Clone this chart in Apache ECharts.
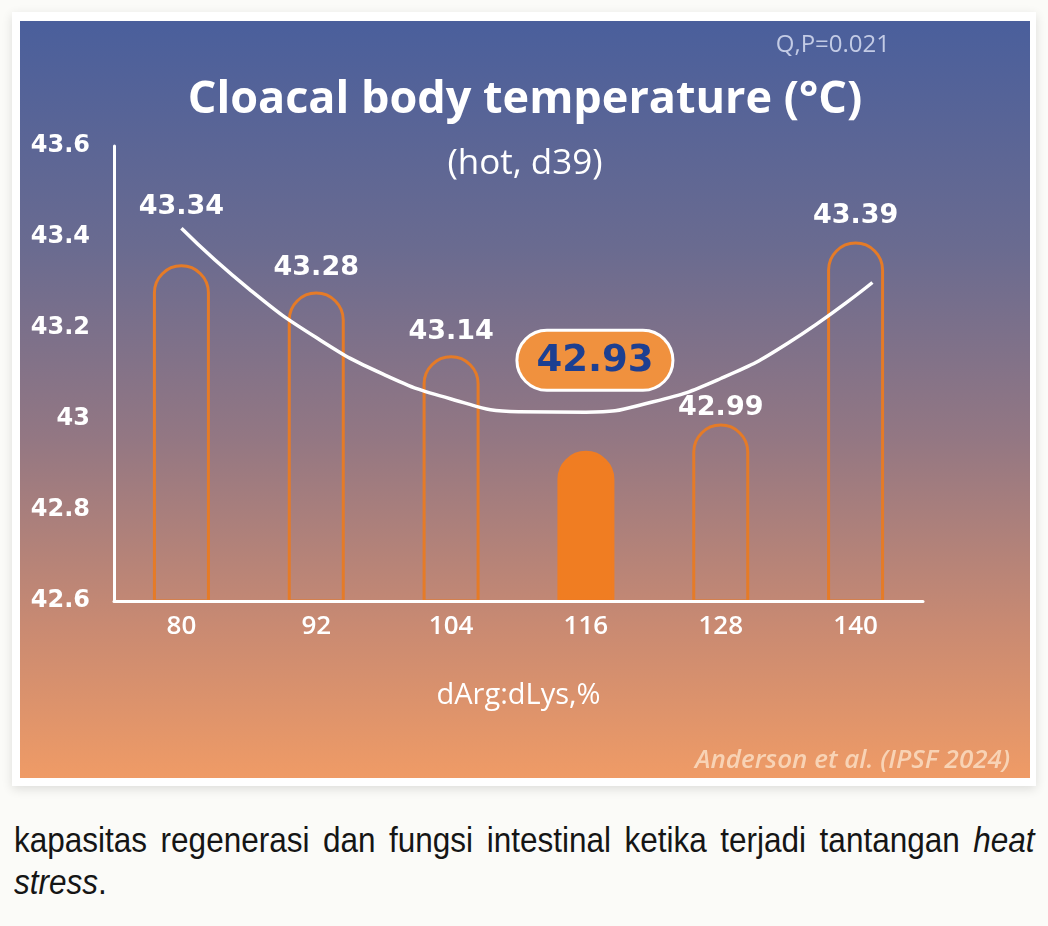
<!DOCTYPE html>
<html>
<head>
<meta charset="utf-8">
<script src="https://cdn.jsdelivr.net/npm/echarts@6/dist/echarts.min.js"></script>
<style>
    html, body { margin: 0; padding: 0; background: #fbfbf8; }
    body { width: 1048px; height: 926px; position: relative; overflow: hidden; }
    .card {
        position: absolute; left: 12px; top: 12px; width: 1024px; height: 774px;
        background: #fff; box-shadow: 0 3px 10px rgba(0,0,0,0.12);
    }
    #chart { position: absolute; left: 20px; top: 21px; width: 1010px; height: 757px; }
    /* 窄体字：用 scaleX 压缩 */
    .caption {
        position: absolute; left: 14px; top: 819px; width: 1134px; margin: 0;
        transform: scaleX(0.9); transform-origin: left top;
        font-family: "Liberation Sans", Arial, sans-serif;
        font-size: 35px; line-height: 42px; color: #151515;
        text-align: justify; text-align-last: left;
    }
</style>
</head>
<body>
<div class="card"></div>
<div id="chart"></div>
<p class="caption">kapasitas regenerasi dan fungsi intestinal ketika terjadi tantangan <i>heat stress</i>.</p>
<script>
// 数据
const categories = ['80', '92', '104', '116', '128', '140'];
const temps = [43.34, 43.28, 43.14, 42.93, 42.99, 43.39];
const bestIndex = 3;
// 拟合曲线（从图上读取的点）
const curveX = [80, 86, 92, 98, 104, 110, 116, 122, 128, 134, 141.5];
const curveY = [43.419, 43.286, 43.179, 43.098, 43.044, 43.016, 43.015, 43.038, 43.089, 43.167, 43.300];
const yTicks = { min: 42.6, max: 43.6, step: 0.2 };

// 标签离柱顶的距离
const labelGap = [44, 10, 10, 59, 2, 12];

const FONT = '"Open Sans", sans-serif';
const NUM_FONT = '"DejaVu Sans", sans-serif';
let chart = echarts.init(document.getElementById('chart'));

let barData = temps.map((v, i) => {
    if (i === bestIndex) {
        return {
            value: v,
            itemStyle: { color: '#f07d22', borderColor: '#f07d22' },
            label: {
                distance: labelGap[i],
                offset: [9, -3],
                color: '#1d3f91',
                fontSize: 37,
                fontWeight: 'bold',
                backgroundColor: '#f0913e',
                borderColor: '#ffffff',
                borderWidth: 3,
                borderRadius: 31,
                padding: [11, 18, 9, 18]
            }
        };
    }
    return { value: v, label: { distance: labelGap[i] } };
});

let option = {
    backgroundColor: new echarts.graphic.LinearGradient(0, 0, 0, 1, [
        { offset: 0, color: '#4a5f9c' },
        { offset: 0.3, color: '#6a6b90' },
        { offset: 0.55, color: '#937783' },
        { offset: 0.8, color: '#c98a72' },
        { offset: 1, color: '#ef9b66' }
    ]),
    textStyle: { fontFamily: FONT },
    title: [
        {
            text: 'Cloacal body temperature (°C)',
            left: 'center', top: 52,
            textStyle: { color: '#fff', fontSize: 45, fontWeight: 700, fontFamily: FONT }
        },
        {
            text: '(hot, d39)',
            left: 'center', top: 121,
            textStyle: { color: '#fff', fontSize: 35, fontWeight: 400, fontFamily: FONT }
        },
        {
            text: 'Q,P=0.021',
            right: 135, top: 7,
            textStyle: { color: '#c3cbe5', fontSize: 24, fontWeight: 400, fontFamily: FONT }
        },
        {
            text: 'Anderson et al. (IPSF 2024)',
            right: 15, top: 722,
            textStyle: { color: '#f8d3b5', fontSize: 26, fontWeight: 600, fontStyle: 'italic', fontFamily: FONT }
        }
    ],
    grid: { left: 94, right: 107, top: 125, bottom: 177 },
    xAxis: [
        {
            type: 'category',
            data: categories,
            z: 5,
            name: 'dArg:dLys,%',
            nameLocation: 'middle',
            nameGap: 80,
            nameTextStyle: { color: '#fff', fontSize: 29, fontFamily: FONT },
            axisLine: { lineStyle: { color: '#fff', width: 3 } },
            axisTick: { show: false },
            axisLabel: { color: '#fff', fontSize: 26, fontWeight: 600, margin: 13 }
        },
        {
            type: 'value',
            min: 74, max: 146,
            show: false
        }
    ],
    yAxis: {
        type: 'value',
        min: yTicks.min,
        max: yTicks.max,
        interval: yTicks.step,
        z: 5,
        axisLine: { show: true, lineStyle: { color: '#fff', width: 3 } },
        axisTick: { show: false },
        splitLine: { show: false },
        axisLabel: { color: '#fff', fontSize: 24, fontWeight: 'bold', fontFamily: NUM_FONT, margin: 24 }
    },
    series: [
        {
            name: 'temp',
            type: 'bar',
            data: barData,
            barWidth: 57,
            itemStyle: {
                color: 'rgba(0,0,0,0)',
                borderColor: '#e57b27',
                borderWidth: 3,
                borderRadius: [29, 29, 0, 0]
            },
            label: {
                show: true,
                position: 'top',
                color: '#fff',
                fontSize: 27,
                fontWeight: 'bold',
                fontFamily: NUM_FONT
            }
        },
        {
            name: 'fit',
            type: 'line',
            xAxisIndex: 1,
            data: curveX.map((x, i) => [x, curveY[i]]),
            smooth: 0.5,
            showSymbol: false,
            z: 4,
            lineStyle: { color: '#fff', width: 3.5 }
        }
    ]
};
chart.setOption(option);
</script>
</body>
</html>
